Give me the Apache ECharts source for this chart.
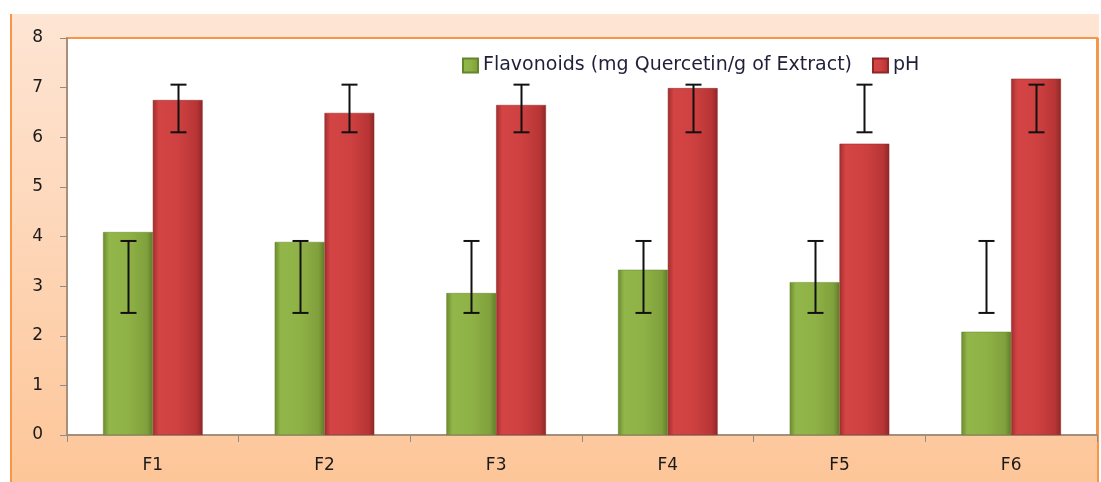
<!DOCTYPE html>
<html><head><meta charset="utf-8">
<script src="https://cdn.jsdelivr.net/npm/echarts@6/dist/echarts.min.js"></script>
<style>html,body{margin:0;padding:0;background:#fff}#c{width:1101px;height:482px}</style>
</head><body><div id="c"></div>
<script>
const categories = ['F1','F2','F3','F4','F5','F6'];
const flavonoids = [4.09, 3.89, 2.86, 3.33, 3.08, 2.08];
const flavLow = [2.46, 2.46, 2.46, 2.46, 2.46, 2.46];
const flavHigh = [3.91, 3.91, 3.91, 3.91, 3.91, 3.91];
const ph = [6.75, 6.49, 6.65, 6.99, 5.87, 7.18];
const phLow = [6.10, 6.10, 6.10, 6.10, 6.10, 6.10];
const phHigh = [7.06, 7.06, 7.06, 7.06, 7.06, 7.06];
const yTicks = [0,1,2,3,4,5,6,7,8];

const chart = echarts.init(document.getElementById('c'));
const BW = 0.29;
function errSeries(name, low, high, side) {
  return {
    type: 'custom', name: name, z: 10, silent: true,
    data: categories.map((c, i) => [i, low[i], high[i]]),
    renderItem: function (params, api) {
      const band = api.size([1, 0])[0];
      const off = side * band * BW / 2;
      const lo = api.coord([api.value(0), api.value(1)]);
      const hi = api.coord([api.value(0), api.value(2)]);
      const x = Math.round(lo[0] + off) + 0.5;
      const cap = 8;
      const st = { stroke: '#111', lineWidth: 2 };
      return { type: 'group', children: [
        { type: 'line', shape: { x1: x, y1: hi[1], x2: x, y2: lo[1] }, style: st },
        { type: 'line', shape: { x1: x - cap, y1: hi[1], x2: x + cap, y2: hi[1] }, style: st },
        { type: 'line', shape: { x1: x - cap, y1: lo[1], x2: x + cap, y2: lo[1] }, style: st }
      ]};
    }
  };
}
const greenGrad = new echarts.graphic.LinearGradient(0, 0, 1, 0, [
  { offset: 0, color: '#6b8a2e' }, { offset: 0.12, color: '#92b64a' },
  { offset: 0.5, color: '#8fb246' }, { offset: 0.88, color: '#80a03c' }, { offset: 1, color: '#5f7c27' }]);
const redGrad = new echarts.graphic.LinearGradient(0, 0, 1, 0, [
  { offset: 0, color: '#a02e2e' }, { offset: 0.12, color: '#d44444' },
  { offset: 0.5, color: '#cf4141' }, { offset: 0.88, color: '#b83535' }, { offset: 1, color: '#8e2727' }]);

chart.setOption({
  animation: false,
  backgroundColor: '#fff',
  graphic: [{
    type: 'rect', z: -10, silent: true,
    shape: { x: 11, y: 14, width: 1088, height: 480 },
    style: {
      fill: new echarts.graphic.LinearGradient(0, 0, 0, 1, [
        { offset: 0, color: '#fee5d4' }, { offset: 1, color: '#fdc597' }])
    }
  }, {
    type: 'line', z: -9, silent: true,
    shape: { x1: 11, y1: 14, x2: 11, y2: 482 }, style: { stroke: '#f79646', lineWidth: 2 }
  }, {
    type: 'line', z: -9, silent: true,
    shape: { x1: 1098, y1: 38, x2: 1098, y2: 482 }, style: { stroke: '#f79646', lineWidth: 2 }
  }],
  grid: { left: 67, right: 4, top: 38, bottom: 47, show: true, backgroundColor: '#fff',
          borderColor: '#f79646', borderWidth: 2 },
  legend: {
    left: 457, top: 51, itemWidth: 15, itemHeight: 14, itemGap: 20,
    textStyle: { fontFamily: 'DejaVu Sans', fontSize: 19, color: '#1f1f3a' },
    data: [{ name: 'Flavonoids (mg Quercetin/g of Extract)', icon: 'rect' }, { name: 'pH', icon: 'rect' }]
  },
  xAxis: {
    type: 'category', data: categories,
    axisLine: { lineStyle: { color: '#8c8c8c', width: 1.5 } },
    axisTick: { show: true, length: 7, lineStyle: { color: '#8c8c8c' } },
    axisLabel: { margin: 22, fontFamily: 'DejaVu Sans', fontSize: 17, color: '#1a1a1a' }
  },
  yAxis: {
    type: 'value', min: 0, max: 8, interval: 1,
    splitLine: { show: false },
    axisLine: { show: true, lineStyle: { color: '#8c8c8c', width: 1.5 } },
    axisTick: { show: true, length: 7, lineStyle: { color: '#8c8c8c' } },
    axisLabel: { margin: 24, fontFamily: 'DejaVu Sans', fontSize: 17, color: '#1a1a1a',
                 formatter: v => yTicks.includes(v) ? String(v) : '' }
  },
  series: [
    { name: 'Flavonoids (mg Quercetin/g of Extract)', type: 'bar', data: flavonoids,
      barWidth: '29%', barGap: '0%', itemStyle: { color: greenGrad, borderColor: '#66842c', borderWidth: 0.5 } },
    { name: 'pH', type: 'bar', data: ph,
      barWidth: '29%', itemStyle: { color: redGrad, borderColor: '#8e2727', borderWidth: 0.5 } },
    errSeries('e1', flavLow, flavHigh, -1),
    errSeries('e2', phLow, phHigh, 1)
  ]
});
</script></body></html>
